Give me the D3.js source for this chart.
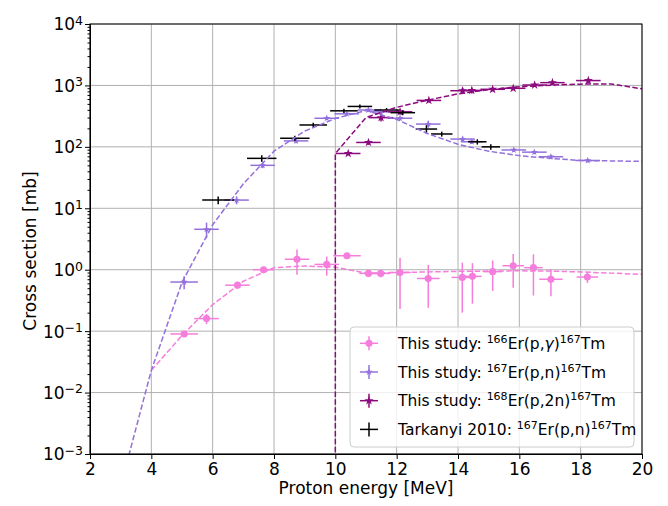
<!DOCTYPE html>
<html>
<head>
<meta charset="utf-8">
<script src="https://cdn.jsdelivr.net/npm/d3@7"></script>
<style>
  body { margin: 0; background: #fff; }
  svg { font-family: "DejaVu Sans", sans-serif; }
</style>
</head>
<body>
<div id="graph_draw"></div>
<script>
// 166Er(p,gamma) - this study
var pgE  = [5.07, 5.80, 6.81, 7.66, 8.75, 9.72, 10.38, 11.08, 11.48, 12.11, 13.03, 14.14, 14.47, 15.13, 15.80, 16.46, 17.03, 18.22];
var pgV  = [0.09, 0.16, 0.56, 1.00, 1.48, 1.22, 1.69, 0.87, 0.87, 0.90, 0.72, 0.75, 0.78, 0.93, 1.16, 1.08, 0.70, 0.76];
var pgDV = [0.01, 0.03, 0.07, 0.10, 0.65, 0.42, 0.15, 0.08, 0.12, 0.67, 0.48, 0.55, 0.50, 0.48, 0.65, 0.70, 0.33, 0.15];
var pgDE = [0.45, 0.40, 0.40, 0.35, 0.40, 0.40, 0.45, 0.30, 0.30, 0.35, 0.37, 0.35, 0.30, 0.30, 0.35, 0.30, 0.38, 0.35];

// 167Er(p,n) - this study
var pnE  = [5.07, 5.80, 6.78, 7.63, 8.72, 9.72, 10.37, 11.08, 11.48, 12.11, 13.03, 14.15, 14.45, 15.82, 16.49, 17.03, 18.23];
var pnV  = [0.63, 4.55, 13.6, 50, 125, 292, 345, 398, 372, 292, 235, 134, 121, 89, 82, 69, 60];
var pnDV = [0.15, 1.3, 2.0, 5, 10, 20, 22, 25, 22, 20, 30, 12, 10, 6, 6, 5, 4];
var pnDE = [0.45, 0.40, 0.40, 0.40, 0.40, 0.40, 0.40, 0.35, 0.35, 0.40, 0.40, 0.40, 0.35, 0.40, 0.40, 0.40, 0.40];

// 168Er(p,2n) - this study
var p2E  = [10.42, 11.08, 11.49, 12.11, 13.05, 14.15, 14.45, 15.13, 15.80, 16.50, 17.08, 18.25];
var p2V  = [78, 118, 299, 372, 570, 820, 830, 865, 898, 1016, 1110, 1200];
var p2DV = [5, 10, 40, 40, 40, 90, 90, 60, 50, 60, 100, 100];
var p2DE = [0.40, 0.40, 0.40, 0.40, 0.40, 0.40, 0.35, 0.40, 0.40, 0.40, 0.40, 0.40];

// Tarkanyi 2010 167Er(p,n)
var tkE  = [6.18, 7.60, 8.68, 9.28, 10.28, 10.80, 11.67, 12.20, 12.97, 13.47, 14.63, 15.07];
var tkV  = [13.6, 65, 138, 227, 386, 455, 398, 360, 195, 162, 121, 100];
var tkDV = [2, 8, 14, 20, 30, 35, 30, 30, 30, 15, 12, 10];
var tkDE = [0.52, 0.48, 0.48, 0.45, 0.45, 0.40, 0.40, 0.40, 0.35, 0.35, 0.30, 0.30];

// calculated curves (dashed)
var pgCurveE = [4, 5, 6, 7, 8, 9, 10, 11, 12, 13, 14, 15, 16, 17, 18, 19, 20];
var pgCurveV = [0.023, 0.085, 0.27, 0.65, 1.08, 1.15, 1.1, 0.88, 0.9, 0.92, 0.94, 0.95, 0.96, 0.95, 0.92, 0.88, 0.84];
var pnCurveE = [3, 4, 5, 6, 7, 8, 9, 10, 11, 12, 13, 14, 15, 16, 17, 18, 19, 20];
var pnCurveV = [0.0003, 0.023, 0.62, 5.4, 25, 85, 180, 290, 390, 280, 165, 110, 85, 72, 65, 60, 59, 58];
var p2CurveE = [10, 10, 11, 12, 13, 14, 15, 16, 17, 18, 19, 20];
var p2CurveV = [0.0001, 78, 300, 440, 575, 730, 850, 950, 1010, 1050, 1055, 880];

var xTicks = [2, 4, 6, 8, 10, 12, 14, 16, 18, 20];
var yExps = [-3, -2, -1, 0, 1, 2, 3, 4];

var colPG = "#f57ddc", colPN = "#9370db", colP2 = "#8b0a7e", colTK = "#000000";

// set the dimensions and margins of the graph
var W = 668, H = 506;
var margin = {top: 24, right: 26, bottom: 52, left: 90};
var width = W - margin.left - margin.right,
    height = H - margin.top - margin.bottom;

var x = d3.scaleLinear().domain([2, 20]).range([0, width]);
var y = d3.scaleLog().domain([1e-3, 1e4]).range([height, 0]);

var svgRoot = d3.select("#graph_draw").append("svg")
    .attr("width", W).attr("height", H);
var svg = svgRoot.append("g")
    .attr("transform", "translate(" + margin.left + "," + margin.top + ")");

svg.append("clipPath").attr("id", "clip")
  .append("rect").attr("width", width).attr("height", height);

// grid
svg.append("g").selectAll("line").data(xTicks).enter().append("line")
    .attr("x1", function(d) { return x(d); }).attr("x2", function(d) { return x(d); })
    .attr("y1", 0).attr("y2", height)
    .attr("stroke", "#b0b0b0").attr("stroke-width", 1);
svg.append("g").selectAll("line").data(yExps).enter().append("line")
    .attr("x1", 0).attr("x2", width)
    .attr("y1", function(d) { return y(Math.pow(10, d)); })
    .attr("y2", function(d) { return y(Math.pow(10, d)); })
    .attr("stroke", "#b0b0b0").attr("stroke-width", 1);

// curves
var line = d3.line()
    .x(function(d) { return x(d[0]); })
    .y(function(d) { return y(d[1]); });

function drawCurve(es, vs, col) {
    svg.append("path")
        .datum(d3.zip(es, vs))
        .attr("clip-path", "url(#clip)")
        .attr("fill", "none").attr("stroke", col)
        .attr("stroke-width", 1.5).attr("stroke-dasharray", "5.5,2.4")
        .attr("d", line);
}

// error bars + markers
function drawSeries(es, vs, dvs, des, col, marker) {
    var g = svg.append("g").attr("clip-path", "url(#clip)");
    es.forEach(function(e, i) {
        var v = vs[i], lo = Math.max(v - dvs[i], 1e-4), hi = v + dvs[i];
        g.append("line")
            .attr("x1", x(e - des[i])).attr("x2", x(e + des[i]))
            .attr("y1", y(v)).attr("y2", y(v))
            .attr("stroke", col).attr("stroke-width", 1.5);
        g.append("line")
            .attr("x1", x(e)).attr("x2", x(e))
            .attr("y1", y(lo)).attr("y2", y(hi))
            .attr("stroke", col).attr("stroke-width", 1.5);
        if (marker) {
            g.append("path")
                .attr("d", d3.symbol().type(marker.type).size(marker.size)())
                .attr("transform", "translate(" + x(e) + "," + y(v) + ")")
                .attr("fill", col);
        }
    });
}

var mPG = {type: d3.symbolCircle, size: 40};
var mPN = {type: d3.symbolStar, size: 16};
var mP2 = {type: d3.symbolStar, size: 26};

drawSeries(pgE, pgV, pgDV, pgDE, colPG, mPG);
drawSeries(pnE, pnV, pnDV, pnDE, colPN, mPN);
drawSeries(p2E, p2V, p2DV, p2DE, colP2, mP2);
drawSeries(tkE, tkV, tkDV, tkDE, colTK, null);

drawCurve(pgCurveE, pgCurveV, colPG);
drawCurve(pnCurveE, pnCurveV, colPN);
drawCurve(p2CurveE, p2CurveV, colP2);

// Add the X Axis
var xAxis = svg.append("g")
    .attr("transform", "translate(0," + height + ")")
    .call(d3.axisBottom(x).tickValues(xTicks).tickSize(5).tickPadding(4).tickFormat(d3.format("d")));
xAxis.selectAll("text").attr("font-size", 17).attr("fill", "#000").attr("font-family", "DejaVu Sans");

// Add the Y Axis (log, with minor ticks)
var minor = [];
yExps.forEach(function(k) {
    if (k < 4) for (var m = 2; m <= 9; m++) minor.push(m * Math.pow(10, k));
});
svg.append("g")
    .call(d3.axisLeft(y).tickValues(minor).tickSize(2.5).tickFormat(""))
    .call(function(g) { g.select(".domain").remove(); });
var yAxis = svg.append("g")
    .call(d3.axisLeft(y).tickValues(yExps.map(function(k) { return Math.pow(10, k); }))
        .tickSize(5).tickPadding(5).tickFormat(""));
yAxis.selectAll(".tick").each(function(d) {
    var k = Math.round(Math.log10(d));
    var t = d3.select(this).append("text")
        .attr("x", -7).attr("dy", "0.35em")
        .attr("text-anchor", "end").attr("fill", "#000")
        .attr("font-size", 17).attr("font-family", "DejaVu Sans");
    t.append("tspan").text("10");
    t.append("tspan").attr("dy", "-0.45em").attr("font-size", 12.5)
        .text(k < 0 ? "\u2212" + (-k) : String(k));
});

// frame
svg.append("rect").attr("width", width).attr("height", height)
    .attr("fill", "none").attr("stroke", "#000").attr("stroke-width", 1);

// axis labels
svgRoot.append("text")
    .attr("x", margin.left + width / 2).attr("y", 494)
    .attr("text-anchor", "middle").attr("font-size", 17)
    .text("Proton energy [MeV]");
svgRoot.append("text")
    .attr("transform", "translate(36,251) rotate(-90)")
    .attr("text-anchor", "middle").attr("font-size", 17)
    .text("Cross section [mb]");

// legend
var legendRows = [
    {col: colPG, marker: mPG, pre: "This study: ", a: "166", r: "Er(p,", g: true, b: "167"},
    {col: colPN, marker: mPN, pre: "This study: ", a: "167", r: "Er(p,n)", g: false, b: "167"},
    {col: colP2, marker: mP2, pre: "This study: ", a: "168", r: "Er(p,2n)", g: false, b: "167"},
    {col: colTK, marker: null, pre: "Tarkanyi 2010: ", a: "167", r: "Er(p,n)", g: false, b: "167"}
];
var lg = svgRoot.append("g");
lg.append("rect")
    .attr("x", 350).attr("y", 327).attr("width", 284).attr("height", 120)
    .attr("rx", 4).attr("fill", "#fff").attr("fill-opacity", 0.8)
    .attr("stroke", "#cccccc").attr("stroke-width", 1);
legendRows.forEach(function(d, i) {
    var cy = 343.3 + i * 28.7, cx = 369;
    lg.append("line").attr("x1", cx - 9).attr("x2", cx + 9).attr("y1", cy).attr("y2", cy)
        .attr("stroke", d.col).attr("stroke-width", 1.5);
    lg.append("line").attr("x1", cx).attr("x2", cx).attr("y1", cy - 7).attr("y2", cy + 7)
        .attr("stroke", d.col).attr("stroke-width", 1.5);
    if (d.marker) {
        lg.append("path").attr("d", d3.symbol().type(d.marker.type).size(d.marker.size)())
            .attr("transform", "translate(" + cx + "," + cy + ")").attr("fill", d.col);
    }
    var t = lg.append("text").attr("x", 398).attr("y", cy + 5.5)
        .attr("font-size", 15.5).attr("fill", "#000");
    t.append("tspan").text(d.pre);
    t.append("tspan").attr("dy", -6).attr("font-size", 11).text(d.a);
    t.append("tspan").attr("dy", 6).text(d.r);
    if (d.g) {
        t.append("tspan").attr("font-style", "italic").text("\u03b3");
        t.append("tspan").text(")");
    }
    t.append("tspan").attr("dy", -6).attr("font-size", 11).text(d.b);
    t.append("tspan").attr("dy", 6).text("Tm");
});
</script>
</body>
</html>
